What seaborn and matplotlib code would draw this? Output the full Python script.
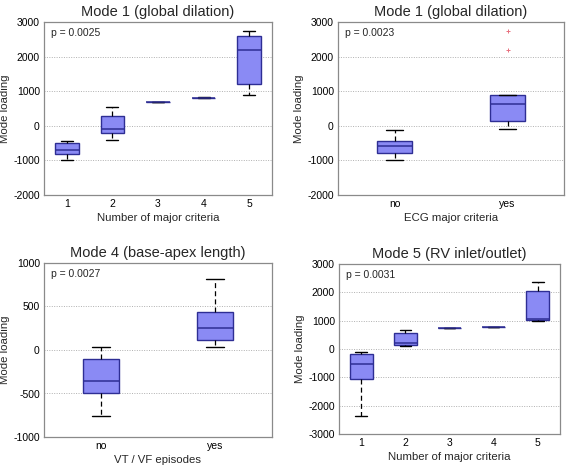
import matplotlib
matplotlib.use("Agg")
import matplotlib.pyplot as plt
import seaborn as sns
import pandas as pd

# ---- data (five-number summaries: low whisker, q1, median, q3, high whisker)
p1_title = "Mode 1 (global dilation)"
p1_xlabel = "Number of major criteria"
p1_cats = ["1", "2", "3", "4", "5"]
p1_low = [-1000, -400, 700, 790, 900]
p1_q1 = [-820, -200, 700, 795, 1200]
p1_med = [-700, -80, 700, 800, 2180]
p1_q3 = [-500, 280, 700, 810, 2600]
p1_high = [-430, 530, 700, 820, 2730]
p1_p = "p = 0.0025"

p2_title = "Mode 1 (global dilation)"
p2_xlabel = "ECG major criteria"
p2_cats = ["no", "yes"]
p2_low = [-1000, -80]
p2_q1 = [-790, 130]
p2_med = [-580, 620]
p2_q3 = [-430, 880]
p2_high = [-130, 900]
p2_out_cat = ["yes", "yes"]
p2_out_val = [2180, 2750]
p2_p = "p = 0.0023"

p3_title = "Mode 4 (base-apex length)"
p3_xlabel = "VT / VF episodes"
p3_cats = ["no", "yes"]
p3_low = [-760, 40]
p3_q1 = [-500, 110]
p3_med = [-360, 250]
p3_q3 = [-100, 440]
p3_high = [40, 820]
p3_p = "p = 0.0027"

p4_title = "Mode 5 (RV inlet/outlet)"
p4_xlabel = "Number of major criteria"
p4_cats = ["1", "2", "3", "4", "5"]
p4_low = [-2380, 100, 740, 770, 1000]
p4_q1 = [-1070, 130, 740, 775, 1030]
p4_med = [-530, 200, 740, 780, 1050]
p4_q3 = [-180, 570, 740, 785, 2050]
p4_high = [-100, 680, 740, 790, 2370]
p4_p = "p = 0.0031"

FACE = "#8a8af4"
EDGE = "#2e2e94"

sns.set_theme(style="white")
plt.rcParams["font.family"] = ["Liberation Sans", "DejaVu Sans"]

fig = plt.figure(figsize=(5.67, 4.69), dpi=100)
W, H = 567, 469


def frame(l, t, r, b):
    return fig.add_axes([l / W, 1 - b / H, (r - l) / W, (b - t) / H])


def make_df(cats, lo, q1, med, q3, hi):
    rows = []
    for c, a, b, m, d, e in zip(cats, lo, q1, med, q3, hi):
        for v in (a, b, m, d, e):
            rows.append({"cat": c, "val": v})
    return pd.DataFrame(rows)


def panel(ax, title, xlabel, cats, lo, q1, med, q3, hi, ylim, yticks, ptxt,
          width, out_cat=None, out_val=None):
    df = make_df(cats, lo, q1, med, q3, hi)
    sns.boxplot(data=df, x="cat", y="val", order=cats, ax=ax, width=width,
                color=FACE, linecolor=EDGE, linewidth=1.0, whis=1.5,
                fliersize=0, saturation=1,
                whiskerprops=dict(color="black", linestyle=(0, (4, 2.5)), linewidth=0.9),
                capprops=dict(color="black", linewidth=1.0),
                medianprops=dict(color=EDGE, linewidth=1.1),
                boxprops=dict(facecolor=FACE, edgecolor=EDGE, linewidth=1.0))
    if out_cat is not None:
        odf = pd.DataFrame({"cat": out_cat, "val": out_val})
        sns.stripplot(data=odf, x="cat", y="val", order=cats, ax=ax,
                      jitter=False, marker="+", color="#e8707e", size=3.5,
                      linewidth=0.7)
    ax.set_xlim(-0.5, len(cats) - 0.5)
    ax.set_ylim(*ylim)
    ax.set_yticks(yticks)
    ax.set_yticklabels([str(v) for v in yticks])
    ax.yaxis.grid(True, linestyle=(0, (1, 1.5)), color="#b0b0b0", linewidth=0.7)
    ax.xaxis.grid(False)
    ax.set_axisbelow(True)
    for s in ax.spines.values():
        s.set_color("#8a8a8a")
        s.set_linewidth(0.9)
    ax.tick_params(axis="both", labelsize=7.5, colors="black", direction="in",
                   length=2, width=0.6, pad=3)
    ax.tick_params(axis="x", length=0)
    ax.set_title(title, fontsize=10.5, pad=4)
    ax.set_xlabel(xlabel, fontsize=8.2, labelpad=3)
    ax.set_ylabel("Mode loading", fontsize=8.2, labelpad=2)
    ax.text(0.03, 0.935, ptxt, transform=ax.transAxes, fontsize=7.5,
            ha="left", va="center")


ax1 = frame(44, 22, 272, 195)
panel(ax1, p1_title, p1_xlabel, p1_cats, p1_low, p1_q1, p1_med, p1_q3, p1_high,
      (-2000, 3000), [-2000, -1000, 0, 1000, 2000, 3000], p1_p, 0.52)

ax2 = frame(338, 22, 564, 195)
panel(ax2, p2_title, p2_xlabel, p2_cats, p2_low, p2_q1, p2_med, p2_q3, p2_high,
      (-2000, 3000), [-2000, -1000, 0, 1000, 2000, 3000], p2_p, 0.31,
      out_cat=p2_out_cat, out_val=p2_out_val)

ax3 = frame(44, 263, 272, 437)
panel(ax3, p3_title, p3_xlabel, p3_cats, p3_low, p3_q1, p3_med, p3_q3, p3_high,
      (-1000, 1000), [-1000, -500, 0, 500, 1000], p3_p, 0.31)

ax4 = frame(339, 264, 560, 434)
panel(ax4, p4_title, p4_xlabel, p4_cats, p4_low, p4_q1, p4_med, p4_q3, p4_high,
      (-3000, 3000), [-3000, -2000, -1000, 0, 1000, 2000, 3000], p4_p, 0.52)

fig.savefig("out.png", dpi=100, facecolor="white")
